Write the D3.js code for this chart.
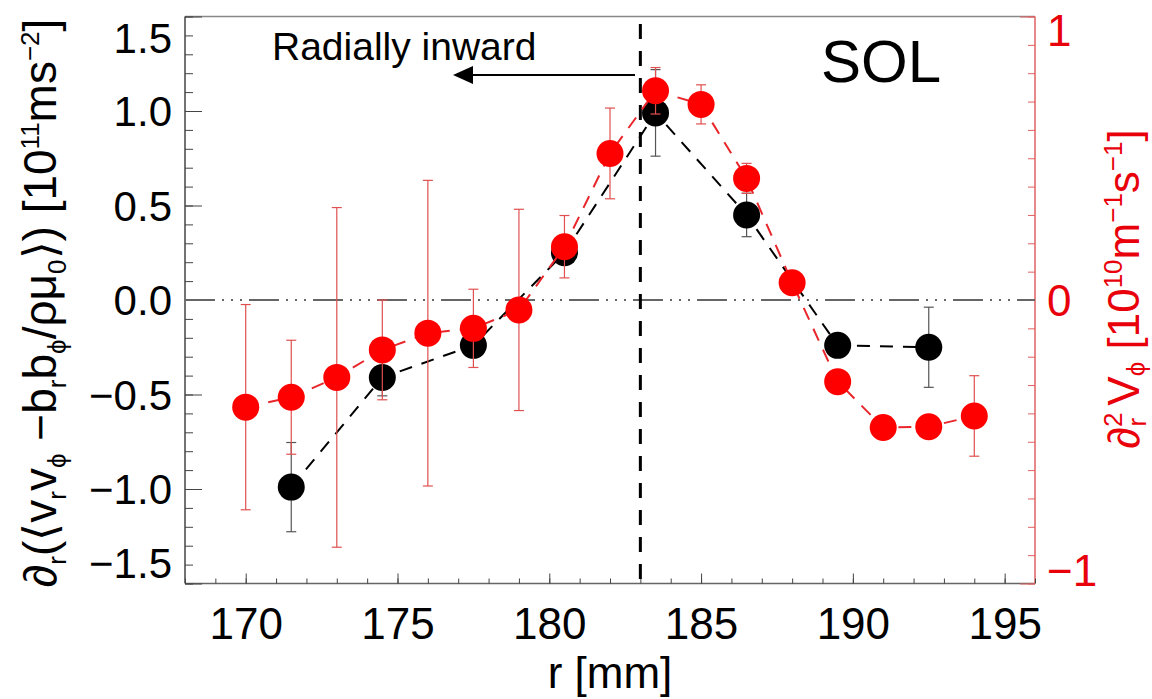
<!DOCTYPE html>
<html>
<head>
<meta charset="utf-8">
<script src="https://cdn.jsdelivr.net/npm/d3@7"></script>
<style>
  body { margin: 0; background: #fff; }
  svg text { font-family: "Liberation Sans", Arial, Helvetica, sans-serif; }
</style>
</head>
<body>
<div id="chart"></div>
<script>
// black series: d_r <v_r v_phi - b_r b_phi / rho mu0>  (left axis)
const blackR = [171.5, 174.5, 177.5, 180.5, 183.5, 186.5, 189.5, 192.5];
const blackY = [-0.99, -0.41, -0.24, 0.25, 0.99, 0.45, -0.24, -0.25];
const blackErr = [0.236, 0.097, 0.05, 0.05, 0.229, 0.115, 0.04, 0.212];

// red series: d2_r V_phi  (right axis)
const redR = [170, 171.5, 173, 174.5, 176, 177.5, 179, 180.5, 182, 183.5, 185, 186.5, 188, 189.5, 191, 192.5, 194];
const redY = [-0.378, -0.343, -0.273, -0.176, -0.117, -0.100, -0.035, 0.188, 0.517, 0.738, 0.690, 0.429, 0.061, -0.288, -0.450, -0.447, -0.409];
const redErr = [0.362, 0.201, 0.599, 0.176, 0.539, 0.138, 0.355, 0.110, 0.160, 0.082, 0.069, 0.053, 0.03, 0.03, 0.03, 0.03, 0.142];

const xTicks = [170, 175, 180, 185, 190, 195];
const leftTicks = [-1.5, -1.0, -0.5, 0.0, 0.5, 1.0, 1.5];
const rightTicks = [-1, 0, 1];
const separatrix = 183;

let w = 1152, h = 699;
let pLeft = 185, pRight = 1035, pTop = 16.5, pBottom = 583.5;

const RED = "#ff0000";

let svg = d3.select("#chart").append("svg")
  .attr("width", w).attr("height", h);

let x = d3.scaleLinear().domain([168, 196]).range([pLeft, pRight]);
let yL = d3.scaleLinear().domain([-1.5, 1.5]).range([pBottom, pTop]);
let yR = d3.scaleLinear().domain([-1, 1]).range([pBottom, pTop]);

//frame
svg.append("line").attr("x1", pLeft).attr("x2", pRight).attr("y1", pTop).attr("y2", pTop)
  .attr("stroke", "#888").attr("stroke-width", 1.5);
svg.append("line").attr("x1", pLeft).attr("x2", pRight).attr("y1", pBottom).attr("y2", pBottom)
  .attr("stroke", "#666").attr("stroke-width", 1.5);
svg.append("line").attr("x1", pLeft).attr("x2", pLeft).attr("y1", pTop).attr("y2", pBottom)
  .attr("stroke", "#444").attr("stroke-width", 1.5);
svg.append("line").attr("x1", pRight).attr("x2", pRight).attr("y1", pTop).attr("y2", pBottom)
  .attr("stroke", "#e06060").attr("stroke-width", 1.5);

// ---- left axis (ticks inward)
let minorL = d3.range(-15, 16).map(d => d / 10);
svg.append("g").attr("transform", `translate(${pLeft},0)`)
  .call(d3.axisLeft(yL).tickValues(minorL).tickSize(-8).tickFormat(""))
  .call(g => g.select(".domain").remove())
  .selectAll("line").attr("stroke", "#444");
let gL = svg.append("g").attr("transform", `translate(${pLeft},0)`)
  .call(d3.axisLeft(yL).tickValues(leftTicks).tickSize(-17).tickPadding(13)
    .tickFormat(d => d3.format(".1f")(d).replace("-", "\u2212")));
gL.select(".domain").remove();
gL.selectAll("line").attr("stroke", "#444");
gL.selectAll("text").attr("font-size", 42).attr("fill", "#000")
  .attr("font-family", "Liberation Sans, Arial, sans-serif")
  .attr("dy", d => d === 1.5 ? "0.85em" : d === -1.5 ? "-0.15em" : "0.35em");

// ---- right axis (red)
let minorR = d3.range(-10, 11).map(d => d / 10);
svg.append("g").attr("transform", `translate(${pRight},0)`)
  .call(d3.axisRight(yR).tickValues(minorR).tickSize(-7).tickFormat(""))
  .call(g => g.select(".domain").remove())
  .selectAll("line").attr("stroke", "#e06060");
let gR = svg.append("g").attr("transform", `translate(${pRight},0)`)
  .call(d3.axisRight(yR).tickValues(rightTicks).tickSize(-15).tickPadding(12)
    .tickFormat(d => String(d).replace("-", "\u2212")));
gR.select(".domain").remove();
gR.selectAll("line").attr("stroke", "#e06060");
gR.selectAll("text").attr("font-size", 44).attr("fill", "#e8000b")
  .attr("font-family", "Liberation Sans, Arial, sans-serif")
  .attr("dy", d => d === 1 ? "0.65em" : d === -1 ? "0.05em" : "0.35em");

// ---- bottom axis
let minorX = d3.range(168, 197);
svg.append("g").attr("transform", `translate(0,${pBottom})`)
  .call(d3.axisBottom(x).tickValues(minorX).tickSize(-5).tickFormat(""))
  .call(g => g.select(".domain").remove())
  .selectAll("line").attr("stroke", "#444");
let gX = svg.append("g").attr("transform", `translate(0,${pBottom})`)
  .call(d3.axisBottom(x).tickValues(xTicks).tickSize(-10).tickPadding(24).tickFormat(d3.format("d")));
gX.select(".domain").remove();
gX.selectAll("line").attr("stroke", "#444");
gX.selectAll("text").attr("font-size", 44).attr("fill", "#000")
  .attr("font-family", "Liberation Sans, Arial, sans-serif");

// axis titles
svg.append("text").attr("x", (pLeft + pRight) / 2).attr("y", 688)
  .attr("text-anchor", "middle").attr("font-size", 44).text("r [mm]");

// sub/superscript helpers
const SUB = 26;
function piece(t, s, kind, sh) {
  // kind: 0 normal, 1 sub, 2 sup
  let sp = t.append("tspan").text(s);
  if (kind === 1) sp.attr("font-size", SUB).attr("dy", sh || 10);
  if (kind === 2) sp.attr("font-size", SUB).attr("dy", -17);
  return sp;
}
function back(sp, kind, sh) {
  if (kind === 1) sp.attr("dy", -(sh || 10));
  if (kind === 2) sp.attr("dy", 17);
  return sp;
}

// left title, rotated
let lt = svg.append("text")
  .attr("transform", "translate(56,303) rotate(-90)")
  .attr("text-anchor", "middle").attr("font-size", 46).attr("fill", "#000");
piece(lt, "\u2202", 0);
piece(lt, "r", 1);
back(piece(lt, "(\u27E8v", 0), 1);
piece(lt, "r", 1);
back(piece(lt, "v", 0), 1);
piece(lt, "\u03D5", 1);
back(piece(lt, " \u2212b", 0), 1);
piece(lt, "r", 1);
back(piece(lt, "b", 0), 1);
piece(lt, "\u03D5", 1);
back(piece(lt, "/\u03C1\u03BC", 0), 1);
piece(lt, "0", 1);
back(piece(lt, "\u27E9) [10", 0), 1);
piece(lt, "11", 2);
back(piece(lt, "ms", 0), 2);
piece(lt, "\u22122", 2);
back(piece(lt, "]", 0), 2);

// right title, red
let rt = svg.append("text")
  .attr("transform", "translate(1139,289) rotate(-90)")
  .attr("text-anchor", "middle").attr("font-size", 44).attr("fill", "#e8000b");
piece(rt, "\u2202", 0);
piece(rt, "2", 2);
rt.append("tspan").text("r").attr("font-size", SUB).attr("dx", -14).attr("dy", 24);
rt.append("tspan").text(" V").attr("dy", -7);
piece(rt, "\u03D5", 1, 6);
back(piece(rt, " [10", 0), 1, 6);
piece(rt, "10", 2);
back(piece(rt, "m", 0), 2);
piece(rt, "\u22121", 2);
back(piece(rt, "s", 0), 2);
piece(rt, "\u22121", 2);
back(piece(rt, "]", 0), 2);

// zero line, dash dot dot dot
svg.append("line").attr("x1", pLeft).attr("x2", pRight)
  .attr("y1", yL(0)).attr("y2", yL(0))
  .attr("stroke", "#666").attr("stroke-width", 2)
  .attr("stroke-dasharray", "30,7,2,7,2,7,2,7");

// separatrix dashed line
svg.append("line").attr("x1", x(separatrix)).attr("x2", x(separatrix))
  .attr("y1", 24).attr("y2", pBottom)
  .attr("stroke", "#000").attr("stroke-width", 3)
  .attr("stroke-dasharray", "15,12");

// annotation
svg.append("text").attr("x", 272).attr("y", 60).attr("font-size", 39).text("Radially inward");
svg.append("line").attr("x1", 635).attr("x2", 468).attr("y1", 75).attr("y2", 75)
  .attr("stroke", "#000").attr("stroke-width", 2);
svg.append("path").attr("d", "M453,75 L473,66 L473,84 Z").attr("fill", "#000");
svg.append("text").attr("x", 821).attr("y", 82).attr("font-size", 60).text("SOL");

// ---- black series
let black = blackR.map((r, i) => ({ r: r, y: blackY[i], e: blackErr[i] }));
let red = redR.map((r, i) => ({ r: r, y: redY[i], e: redErr[i] }));

svg.append("path").datum(black)
  .attr("d", d3.line().x(d => x(d.r)).y(d => yL(d.y)))
  .attr("fill", "none").attr("stroke", "#000").attr("stroke-width", 2)
  .attr("stroke-dasharray", "13,10");

function errBars(data, ys, color) {
  let g = svg.append("g").attr("stroke", color).attr("stroke-width", 1.2);
  g.selectAll(".v").data(data).enter().append("line")
    .attr("x1", d => x(d.r)).attr("x2", d => x(d.r))
    .attr("y1", d => ys(d.y - d.e)).attr("y2", d => ys(d.y + d.e));
  g.selectAll(".t").data(data).enter().append("line")
    .attr("x1", d => x(d.r) - 5).attr("x2", d => x(d.r) + 5)
    .attr("y1", d => ys(d.y + d.e)).attr("y2", d => ys(d.y + d.e));
  g.selectAll(".b").data(data).enter().append("line")
    .attr("x1", d => x(d.r) - 5).attr("x2", d => x(d.r) + 5)
    .attr("y1", d => ys(d.y - d.e)).attr("y2", d => ys(d.y - d.e));
}
errBars(black, yL, "#555");

svg.append("g").selectAll("circle").data(black).enter().append("circle")
  .attr("cx", d => x(d.r)).attr("cy", d => yL(d.y)).attr("r", 13.5)
  .attr("fill", "#000");

// ---- red series
svg.append("path").datum(red)
  .attr("d", d3.line().x(d => x(d.r)).y(d => yR(d.y)))
  .attr("fill", "none").attr("stroke", "#e8262b").attr("stroke-width", 2)
  .attr("stroke-dasharray", "13,10");

errBars(red, yR, "#e05050");

svg.append("g").selectAll("circle").data(red).enter().append("circle")
  .attr("cx", d => x(d.r)).attr("cy", d => yR(d.y)).attr("r", 13.5)
  .attr("fill", RED);
</script>
</body>
</html>
